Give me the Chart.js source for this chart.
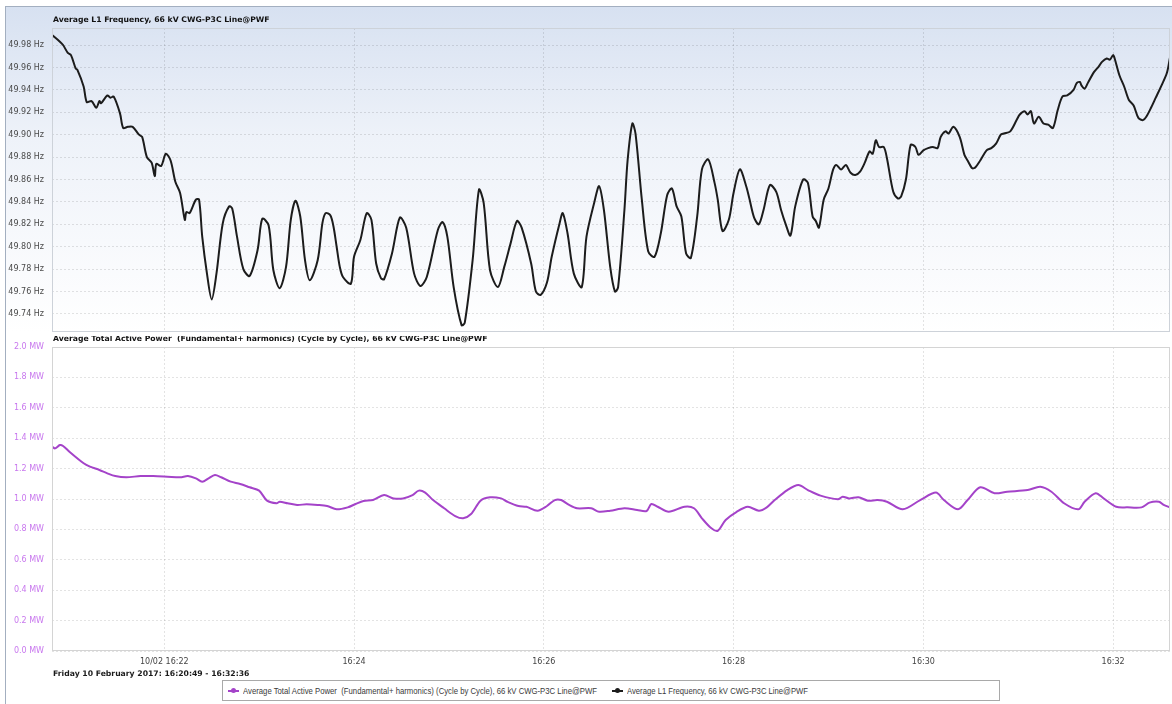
<!DOCTYPE html>
<html>
<head>
<meta charset="utf-8">
<title>Average L1 Frequency and Active Power, 66 kV CWG-P3C Line@PWF</title>
<script src="https://cdn.jsdelivr.net/npm/chart.js@4.4.1/dist/chart.umd.min.js"></script>
<style>
  html, body { margin: 0; padding: 0; background: #ffffff; }
  #wrap { position: relative; width: 1172px; height: 704px; overflow: hidden; }
  #frame { position: absolute; left: 5px; top: 6px; width: 1167px; height: 698px;
           border-left: 1px solid #a3afc0; border-top: 1px solid #a3afc0; box-sizing: border-box; }
  #topbg { position: absolute; left: 6px; top: 7px; width: 1166px; height: 326px;
           background: linear-gradient(to bottom, #d7e1f1 0%, #eef2f9 40%, #ffffff 100%); }
  canvas { position: absolute; left: 0; }
  #c1 { top: 0; }
  #c2 { top: 336px; }
  #range { position: absolute; left: 53px; top: 669px; font: bold 7.7px "DejaVu Sans", Verdana, sans-serif;
           color: #1a1a1a; white-space: nowrap; }
  #legend { position: absolute; left: 222px; top: 680px; width: 778px; height: 21px; border: 1px solid #a9a9a9;
            box-sizing: border-box; background: #fff;
            font: 9.5px "Liberation Sans Narrow", "Liberation Sans", Arial, sans-serif; color: #3a3a3a; }
  .item { position: absolute; top: 0; height: 19px; line-height: 19px; white-space: pre; }
  .mark { position: absolute; top: 9px; width: 11px; height: 0; border-top: 2px solid; }
  .mark::after { content: ""; position: absolute; left: 3px; top: -4px; width: 5px; height: 5px;
                 border-radius: 50%; background: currentColor; }
  .txt { position: absolute; top: 0; white-space: pre; transform-origin: 0 50%; }
</style>
</head>
<body>
<div id="wrap">
  <div id="frame"></div>
  <div id="topbg"></div>
  <canvas id="c1" width="1172" height="336"></canvas>
  <canvas id="c2" width="1172" height="368"></canvas>
  <div id="range"></div>
  <div id="legend">
    <div class="item" style="left:0">
      <span class="mark" id="m1" style="left:5px"></span><span class="txt" id="t1" style="left:20px"></span>
    </div>
    <div class="item" style="left:384px">
      <span class="mark" id="m2" style="left:5px"></span><span class="txt" id="t2" style="left:20px"></span>
    </div>
  </div>
</div>
<script>
// Seconds after 16:20:49 and the averaged L1 frequency (Hz)
const freqSeconds = [
  0, 5, 7, 10, 12, 15, 16, 20, 22, 25, 28, 30, 31, 35, 37, 39, 43, 45, 48, 51,
  55, 57, 60, 63, 65, 66, 69, 72, 75, 78, 81, 84, 85, 87, 91, 93, 95, 98, 101, 104,
  108, 112, 114, 117, 121, 125, 130, 133, 137, 140, 144, 148, 151, 154, 157, 160, 163, 168, 171, 173,
  176, 178, 180, 182, 184, 189, 191, 195, 199, 202, 205, 208, 210, 215, 220, 224, 229, 233, 237, 244,
  247, 250, 254, 259, 261, 266, 270, 273, 277, 282, 286, 290, 294, 297, 303, 306, 309, 313, 316, 321,
  323, 326, 330, 335, 338, 343, 346, 349, 353, 356, 358, 362, 364, 367, 369, 373, 377, 381, 385, 389,
  392, 395, 398, 401, 404, 408, 411, 415, 419, 421, 424, 428, 431, 435, 439, 441, 444, 447, 450, 454,
  458, 461, 464, 467, 470, 475, 478, 481, 483, 485, 488, 491, 494, 496, 499, 502, 505, 508, 511, 514,
  517, 519, 521, 523, 526, 528, 532, 535, 537, 540, 543, 546, 548, 551, 554, 557, 560, 562, 565, 567,
  570, 574, 577, 579, 582, 584, 587, 591, 594, 597, 600, 602, 606, 610, 612, 615, 617, 619, 621, 624,
  627, 630, 633, 636, 639, 642, 646, 648, 650, 651, 653, 655, 659, 662, 664, 667, 669, 671, 672, 675,
  678, 681, 684, 687, 690, 692, 695, 698, 701, 705, 707
];
const freqHz = [
  49.989, 49.983, 49.980, 49.973, 49.971, 49.959, 49.958, 49.943, 49.929, 49.930, 49.924, 49.930, 49.928, 49.935, 49.933, 49.934, 49.919, 49.906, 49.907, 49.907,
  49.900, 49.898, 49.880, 49.875, 49.863, 49.874, 49.872, 49.883, 49.877, 49.858, 49.848, 49.824, 49.831, 49.830, 49.842, 49.842, 49.809, 49.776, 49.753, 49.776,
  49.821, 49.836, 49.834, 49.809, 49.780, 49.774, 49.797, 49.825, 49.819, 49.779, 49.763, 49.782, 49.824, 49.841, 49.827, 49.788, 49.770, 49.788, 49.821, 49.830,
  49.828, 49.818, 49.800, 49.782, 49.773, 49.767, 49.791, 49.806, 49.830, 49.824, 49.785, 49.772, 49.771, 49.794, 49.826, 49.817, 49.776, 49.765, 49.773, 49.815,
  49.822, 49.809, 49.764, 49.730, 49.732, 49.788, 49.851, 49.839, 49.779, 49.764, 49.782, 49.803, 49.823, 49.817, 49.785, 49.760, 49.757, 49.768, 49.791, 49.821,
  49.830, 49.812, 49.776, 49.764, 49.809, 49.840, 49.854, 49.833, 49.782, 49.760, 49.764, 49.833, 49.877, 49.910, 49.901, 49.842, 49.796, 49.791, 49.812, 49.846,
  49.852, 49.836, 49.827, 49.794, 49.790, 49.827, 49.869, 49.878, 49.857, 49.842, 49.814, 49.824, 49.848, 49.869, 49.854, 49.843, 49.826, 49.820, 49.833, 49.855,
  49.849, 49.833, 49.820, 49.810, 49.836, 49.860, 49.857, 49.827, 49.823, 49.817, 49.842, 49.852, 49.869, 49.873, 49.869, 49.873, 49.866, 49.864, 49.867, 49.875,
  49.885, 49.883, 49.895, 49.889, 49.889, 49.879, 49.849, 49.843, 49.845, 49.860, 49.891, 49.889, 49.882, 49.886, 49.888, 49.889, 49.888, 49.898, 49.903, 49.901,
  49.907, 49.898, 49.882, 49.877, 49.870, 49.871, 49.877, 49.886, 49.888, 49.892, 49.900, 49.901, 49.903, 49.913, 49.918, 49.921, 49.918, 49.921, 49.910, 49.916,
  49.910, 49.909, 49.906, 49.922, 49.934, 49.935, 49.940, 49.946, 49.947, 49.944, 49.941, 49.946, 49.956, 49.961, 49.965, 49.968, 49.967, 49.971, 49.968, 49.953,
  49.943, 49.931, 49.926, 49.915, 49.913, 49.916, 49.924, 49.933, 49.942, 49.955, 49.969
];

// Seconds after 16:20:49 and the averaged total active power (MW)
const powerSeconds = [
  0, 2, 5, 7, 11, 20, 24, 30, 35, 40, 47, 56, 64, 73, 81, 86, 91, 95, 99, 103,
  107, 113, 119, 125, 131, 136, 142, 144, 149, 155, 161, 168, 174, 180, 187, 192, 197, 203, 210, 216,
  222, 228, 232, 236, 241, 248, 255, 260, 265, 271, 277, 284, 288, 295, 300, 307, 313, 318, 322, 327,
  332, 341, 346, 353, 362, 370, 376, 379, 383, 390, 400, 406, 411, 417, 421, 426, 433, 440, 447, 452,
  457, 465, 472, 478, 486, 497, 500, 504, 510, 516, 522, 528, 538, 549, 559, 564, 573, 579, 587, 596,
  604, 617, 625, 632, 640, 649, 653, 660, 665, 673, 680, 689, 694, 700, 703, 707
];
const powerMW = [
  1.344, 1.333, 1.355, 1.349, 1.311, 1.235, 1.213, 1.191, 1.169, 1.151, 1.143, 1.151, 1.151, 1.147, 1.143, 1.151, 1.136, 1.114, 1.136, 1.158,
  1.143, 1.114, 1.099, 1.077, 1.055, 0.989, 0.972, 0.982, 0.972, 0.961, 0.965, 0.961, 0.954, 0.932, 0.945, 0.967, 0.987, 0.993, 1.026, 1.004,
  1.004, 1.026, 1.055, 1.042, 0.993, 0.939, 0.888, 0.873, 0.901, 0.989, 1.011, 1.004, 0.982, 0.954, 0.949, 0.923, 0.954, 0.993, 0.993, 0.961,
  0.939, 0.939, 0.916, 0.923, 0.939, 0.928, 0.921, 0.967, 0.949, 0.916, 0.949, 0.939, 0.873, 0.807, 0.791, 0.862, 0.916, 0.949, 0.923, 0.945,
  0.993, 1.059, 1.092, 1.059, 1.022, 0.998, 1.015, 1.004, 1.011, 0.989, 0.993, 0.982, 0.932, 0.993, 1.042, 0.993, 0.932, 0.993, 1.077, 1.038,
  1.048, 1.059, 1.081, 1.048, 0.972, 0.932, 0.982, 1.038, 1.004, 0.949, 0.945, 0.945, 0.976, 0.982, 0.961, 0.945
];

// Time axis: seconds after 16:20:49 for each labelled minute, and the labels
const timeTickSeconds = [71, 191, 311, 431, 551, 671];
const timeTickLabels = ['10/02 16:22', '16:24', '16:26', '16:28', '16:30', '16:32'];
const timeEnd = 707;

const freqTicks = [49.74, 49.76, 49.78, 49.80, 49.82, 49.84, 49.86, 49.88, 49.90, 49.92, 49.94, 49.96, 49.98];
const powerTicks = [0.0, 0.2, 0.4, 0.6, 0.8, 1.0, 1.2, 1.4, 1.6, 1.8, 2.0];

const freqTitle = 'Average L1 Frequency, 66 kV CWG-P3C Line@PWF';
const powerTitle = 'Average Total Active Power  (Fundamental+ harmonics) (Cycle by Cycle), 66 kV CWG-P3C Line@PWF';
const rangeText = 'Friday 10 February 2017: 16:20:49 - 16:32:36';

const freqColor = '#1c1c1c';
const powerColor = '#a443c9';

const sansFamily = '"DejaVu Sans", Verdana, sans-serif';
const tickFont = { family: sansFamily, size: 8 };
const gridColor = 'rgba(0, 0, 0, 0.11)';

// Draws the plot frame and the bold panel heading above the plot area
const panelDecor = {
  id: 'panelDecor',
  afterDraw(chart, args, opts) {
    const { ctx, chartArea: a } = chart;
    ctx.save();
    ctx.strokeStyle = opts.frameColor;
    ctx.lineWidth = 1;
    ctx.strokeRect(a.left + 0.5, a.top + 0.5, a.right - a.left - 1, a.bottom - a.top - 1);
    ctx.fillStyle = '#111111';
    ctx.font = 'bold 7.7px ' + sansFamily;
    ctx.textBaseline = 'middle';
    ctx.textAlign = 'left';
    ctx.fillText(opts.text, a.left + 1, a.top - 8);
    ctx.restore();
  }
};

function timeAxis(showLabels, height) {
  return {
    type: 'linear',
    min: 0,
    max: timeEnd,
    afterBuildTicks: s => { s.ticks = timeTickSeconds.map(v => ({ value: v })); },
    afterFit: s => { s.height = height; s.paddingLeft = 0; s.paddingRight = 0; },
    ticks: {
      display: showLabels,
      autoSkip: false,
      maxRotation: 0,
      padding: 6,
      font: tickFont,
      color: '#444444',
      callback: (v, i) => timeTickLabels[i]
    },
    grid: { color: gridColor, drawTicks: false },
    border: { display: false, dash: [2, 2] }
  };
}

function valueAxis(min, max, ticks, fmt, color) {
  return {
    min: min,
    max: max,
    afterBuildTicks: s => { s.ticks = ticks.map(v => ({ value: v })); },
    // fixed label column; no extra room reserved above or below the plot for edge labels
    afterFit: s => { s.width = 47; s.paddingTop = 0; s.paddingBottom = 0; },
    ticks: { font: tickFont, color: color, padding: 8, callback: fmt },
    grid: { color: gridColor, drawTicks: false },
    border: { display: false, dash: [2, 2] }
  };
}

const common = {
  responsive: false,
  animation: false,
  devicePixelRatio: 1,
  events: []
};

new Chart(document.getElementById('c1'), {
  type: 'line',
  data: {
    datasets: [{
      label: freqTitle,
      data: freqSeconds.map((t, i) => ({ x: t, y: freqHz[i] })),
      borderColor: freqColor,
      backgroundColor: freqColor,
      borderWidth: 2,
      pointRadius: 0,
      tension: 0.3
    }]
  },
  options: Object.assign({}, common, {
    layout: { padding: { left: 5, right: 2, top: 28, bottom: 4 } },
    plugins: {
      legend: { display: false },
      tooltip: { enabled: false },
      panelDecor: { text: freqTitle, frameColor: '#cdd2d9' }
    },
    scales: {
      x: timeAxis(false, 0),
      y: valueAxis(49.7239, 49.9952, freqTicks, v => v.toFixed(2) + ' Hz', '#4a4a4a')
    }
  }),
  plugins: [panelDecor]
});

new Chart(document.getElementById('c2'), {
  type: 'line',
  data: {
    datasets: [{
      label: powerTitle,
      data: powerSeconds.map((t, i) => ({ x: t, y: powerMW[i] })),
      borderColor: powerColor,
      backgroundColor: powerColor,
      borderWidth: 2,
      pointRadius: 0,
      tension: 0.3
    }]
  },
  options: Object.assign({}, common, {
    layout: { padding: { left: 5, right: 2, top: 11, bottom: 0 } },
    plugins: {
      legend: { display: false },
      tooltip: { enabled: false },
      panelDecor: { text: powerTitle, frameColor: '#d4d4d4' }
    },
    scales: {
      x: timeAxis(true, 53),
      y: valueAxis(0, 2.0, powerTicks, v => v.toFixed(1) + ' MW', '#c877ee')
    }
  }),
  plugins: [panelDecor]
});

document.getElementById('range').textContent = rangeText;
document.getElementById('m1').style.color = powerColor;
document.getElementById('m2').style.color = freqColor;

// Legend entries use a condensed face; squeeze to the condensed width if the face is wider
function fitLegendText(id, text, width) {
  const el = document.getElementById(id);
  el.textContent = text;
  const w = el.getBoundingClientRect().width;
  if (w > width) el.style.transform = 'scaleX(' + (width / w).toFixed(4) + ')';
}
fitLegendText('t1', powerTitle, 354);
fitLegendText('t2', freqTitle, 181);
</script>
</body>
</html>
